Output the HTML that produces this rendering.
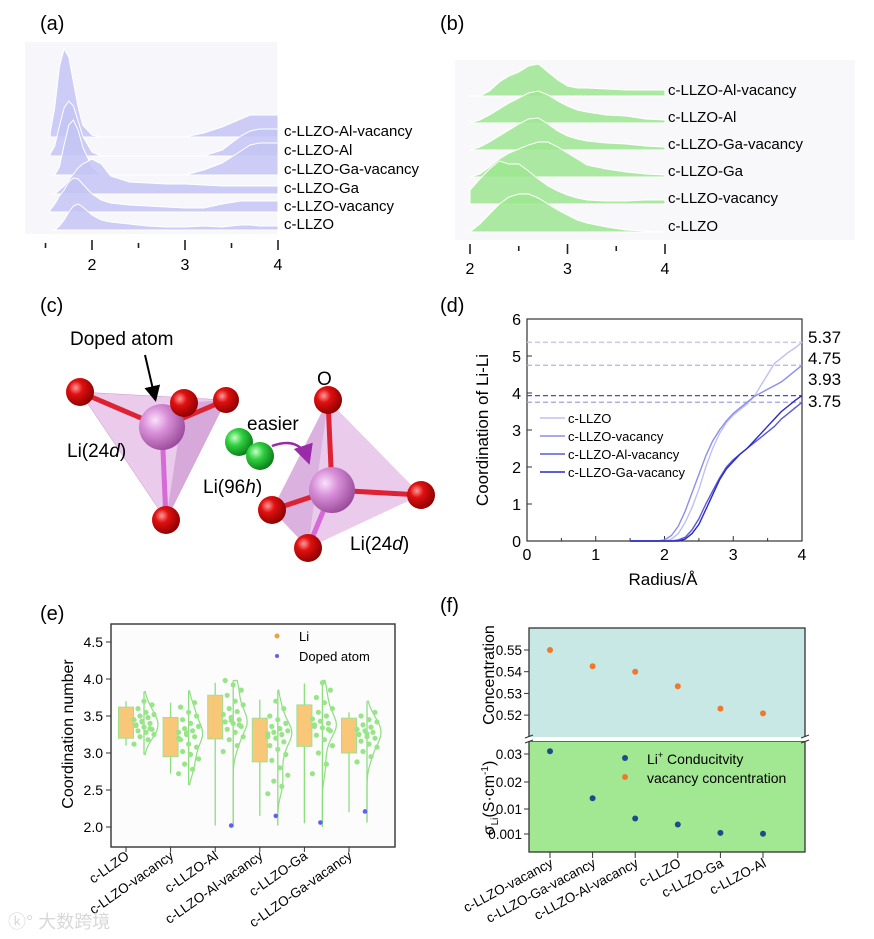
<!DOCTYPE html>
<html><head><meta charset="utf-8">
<style>
html,body{margin:0;padding:0;background:#fff;}
svg{display:block;font-family:"Liberation Sans",Arial,sans-serif;}
</style></head>
<body>
<svg id="fig" width="874" height="939" viewBox="0 0 874 939" xmlns="http://www.w3.org/2000/svg">
<defs>
<radialGradient id="gO" cx="35%" cy="35%" r="70%"><stop offset="0" stop-color="#ff9a9a"/><stop offset="0.35" stop-color="#e01010"/><stop offset="1" stop-color="#8a0000"/></radialGradient>
<radialGradient id="gLi" cx="35%" cy="35%" r="70%"><stop offset="0" stop-color="#fbe0fb"/><stop offset="0.4" stop-color="#d890d8"/><stop offset="1" stop-color="#9a4a9a"/></radialGradient>
<radialGradient id="gG" cx="35%" cy="35%" r="70%"><stop offset="0" stop-color="#c8ffc8"/><stop offset="0.4" stop-color="#30d040"/><stop offset="1" stop-color="#0a7a18"/></radialGradient>
<marker id="arrK" markerWidth="8" markerHeight="8" refX="6" refY="4" orient="auto"><path d="M0,0 L8,4 L0,8 Z" fill="#000"/></marker>
<marker id="arrP" markerWidth="8" markerHeight="8" refX="6" refY="4" orient="auto"><path d="M0,0 L8,4 L0,8 Z" fill="#9a2aa8"/></marker>
</defs>

<rect x="25" y="42" width="252" height="192" fill="#f7f7fb"/>
<rect x="455" y="60" width="400" height="180" fill="#f8f8fa"/>

<text x="40" y="30" font-size="20">(a)</text>
<text x="440" y="30" font-size="20">(b)</text>
<text x="40" y="312" font-size="20">(c)</text>
<text x="440" y="312" font-size="20">(d)</text>
<text x="40" y="620" font-size="20">(e)</text>
<text x="440" y="612" font-size="20">(f)</text>

<g id="pa"></g>
<g id="pb"></g>

<g id="pc">
  <polygon points="80,392 226,400 166,520" fill="#d9a0dc" fill-opacity="0.55" stroke="#c890cc" stroke-width="0.5"/>
  <polygon points="184,403 226,400 166,520" fill="#c080c8" fill-opacity="0.45"/>
  <line x1="80" y1="392" x2="162" y2="427" stroke="#d23" stroke-width="5"/>
  <line x1="226" y1="400" x2="162" y2="427" stroke="#d23" stroke-width="5"/>
  <line x1="184" y1="403" x2="162" y2="427" stroke="#d23" stroke-width="5"/>
  <line x1="166" y1="520" x2="162" y2="427" stroke="#d66ad6" stroke-width="5"/>
  <circle cx="162" cy="427" r="23" fill="url(#gLi)"/>
  <circle cx="80" cy="392" r="14" fill="url(#gO)"/>
  <circle cx="226" cy="400" r="13" fill="url(#gO)"/>
  <circle cx="184" cy="403" r="14" fill="url(#gO)"/>
  <circle cx="166" cy="520" r="14" fill="url(#gO)"/>
  <text x="70" y="345" font-size="19">Doped atom</text>
  <line x1="145" y1="355" x2="155" y2="398" stroke="#000" stroke-width="2" marker-end="url(#arrK)"/>
  <text x="67" y="457" font-size="19">Li(24<tspan font-style="italic">d</tspan>)</text>
  <polygon points="328,400 421,495 308,548 272,510" fill="#d9a0dc" fill-opacity="0.55"/>
  <polygon points="328,400 272,510 308,548" fill="#c080c8" fill-opacity="0.35"/>
  <line x1="328" y1="400" x2="332" y2="490" stroke="#d23" stroke-width="5"/>
  <line x1="272" y1="510" x2="332" y2="490" stroke="#d23" stroke-width="5"/>
  <line x1="421" y1="495" x2="332" y2="490" stroke="#d23" stroke-width="5"/>
  <line x1="308" y1="548" x2="332" y2="490" stroke="#d66ad6" stroke-width="5"/>
  <circle cx="332" cy="490" r="23" fill="url(#gLi)"/>
  <circle cx="328" cy="400" r="14" fill="url(#gO)"/>
  <circle cx="272" cy="510" r="14" fill="url(#gO)"/>
  <circle cx="421" cy="495" r="14" fill="url(#gO)"/>
  <circle cx="308" cy="548" r="14" fill="url(#gO)"/>
  <text x="317" y="385" font-size="19">O</text>
  <circle cx="239" cy="442" r="14" fill="url(#gG)"/>
  <circle cx="260" cy="456" r="14" fill="url(#gG)"/>
  <text x="247" y="430" font-size="19">easier</text>
  <path d="M272,446 Q300,436 308,460" fill="none" stroke="#9a2aa8" stroke-width="2.5" marker-end="url(#arrP)"/>
  <text x="203" y="493" font-size="19">Li(96<tspan font-style="italic">h</tspan>)</text>
  <text x="350" y="550" font-size="19">Li(24<tspan font-style="italic">d</tspan>)</text>
</g>

<g id="pd"></g>
<g id="pe"></g>
<g id="pf"></g>

<text x="8" y="928" font-size="18" fill="#d8d8d8" font-family="Liberation Sans, Noto Sans CJK SC, sans-serif">ⓚ° 大数跨境</text>
</svg>

<script>
const aGrid = [1.55,1.6,1.65,1.7,1.75,1.8,1.85,1.9,2.0,2.1,2.2,2.4,2.6,2.8,3.0,3.2,3.4,3.6,3.7,3.8,4.0];
const aNames = ["c-LLZO","c-LLZO-vacancy","c-LLZO-Ga","c-LLZO-Ga-vacancy","c-LLZO-Al","c-LLZO-Al-vacancy"];
const aLLZO   = [0,0,4,10,18,24,26,23,15,10,8,6,4,3,3,4,3,5,5,4,4];
const aVac    = [2,8,16,22,30,34,33,28,18,12,9,7,6,5,4,4,8,11,11,11,11];
const aGa     = [0,0,4,8,14,20,26,30,35,30,18,12,11,10,10,9,8,8,8,8,8];
const aGaVac  = [0,0,8,30,50,55,45,28,8,0,0,0,0,0,0,5,12,24,30,32,32];
const aAl     = [2,10,30,48,55,50,35,20,4,0,0,0,0,0,0,0,6,20,25,27,27];
const aAlVac  = [4,30,70,88,80,55,30,12,2,0,0,0,0,0,0,4,10,18,22,22,22];
const aTicks = [2,3,4];
const aMinor = [1.5,2.5,3.5];
const bGrid = [2.0,2.1,2.2,2.3,2.4,2.5,2.6,2.7,2.8,2.9,3.0,3.1,3.2,3.4,3.6,3.8,4.0];
const bLLZO  = [0,8,18,28,35,38,38,34,28,22,17,12,9,5,2,1,0];
const bVac   = [14,25,35,43,40,40,33,25,18,13,9,6,4,3,3,4,4];
const bGa    = [0,3,10,18,24,28,32,35,35,30,24,18,12,8,5,3,2];
const bGaVac = [0,3,8,14,20,26,31,32,26,19,14,11,9,7,6,4,3];
const bAl    = [0,3,8,14,20,25,30,32,28,22,17,13,11,8,7,4,3];
const bAlVac = [0,0,5,14,20,24,30,32,24,16,10,8,8,7,6,6,6];
const bTicks = [2,3,4];
const bMinor = [2.5,3.5];
const dR = [1.5,1.9,2.0,2.1,2.2,2.3,2.4,2.5,2.6,2.7,2.8,2.9,3.0,3.1,3.2,3.3,3.4,3.5,3.6,3.7,3.8,3.9,4.0];
const dLLZO  = [0,0,0,0.05,0.2,0.5,0.9,1.4,2.0,2.5,2.9,3.2,3.4,3.55,3.7,3.9,4.2,4.5,4.8,4.95,5.1,5.22,5.37];
const dVac   = [0,0,0.03,0.15,0.4,0.8,1.3,1.8,2.3,2.7,3.0,3.25,3.45,3.6,3.75,3.9,4.0,4.1,4.2,4.3,4.45,4.6,4.75];
const dAlVac = [0,0,0,0,0.03,0.1,0.3,0.6,1.0,1.35,1.7,2.0,2.2,2.35,2.5,2.65,2.8,2.95,3.1,3.3,3.45,3.6,3.75];
const dGaVac = [0,0,0,0,0,0.05,0.2,0.45,0.85,1.25,1.65,1.95,2.15,2.35,2.5,2.7,2.9,3.1,3.3,3.5,3.65,3.8,3.93];
const dFinal = [5.37,4.75,3.93,3.75];
const dYTicks = [0,1,2,3,4,5,6];
const dXTicks = [0,1,2,3,4];
const eCats = ["c-LLZO","c-LLZO-vacancy","c-LLZO-Al","c-LLZO-Al-vacancy","c-LLZO-Ga","c-LLZO-Ga-vacancy"];
const eQ1 = [3.2,2.95,3.19,2.88,3.09,3.0];
const eQ3 = [3.62,3.48,3.78,3.47,3.65,3.47];
const eWLow = [3.1,2.72,2.02,2.15,2.05,2.2];
const eWHigh = [3.7,3.68,3.95,3.72,3.94,3.55];
const eVLow = [2.98,2.57,2.0,2.02,2.0,2.06];
const eVHigh = [3.83,3.84,3.98,3.85,3.98,3.7];
const eDoped = [null,null,2.02,2.15,2.06,2.21];
const ePts0 = [3.12,3.18,3.22,3.25,3.28,3.3,3.32,3.35,3.37,3.4,3.42,3.45,3.48,3.5,3.52,3.55,3.6,3.65,3.7,3.38,3.33,3.43];
const ePts1 = [2.72,2.78,2.85,2.92,2.98,3.02,3.08,3.12,3.18,3.22,3.25,3.28,3.3,3.33,3.36,3.4,3.45,3.5,3.55,3.62,3.68,3.27,3.2];
const ePts2 = [3.02,3.1,3.18,3.22,3.28,3.32,3.36,3.4,3.42,3.45,3.48,3.52,3.56,3.6,3.65,3.7,3.78,3.85,3.92,3.98,3.38,3.44];
const ePts3 = [2.45,2.55,2.62,2.7,2.8,2.9,2.98,3.05,3.1,3.15,3.2,3.22,3.25,3.28,3.3,3.33,3.36,3.4,3.45,3.5,3.6,3.7,3.26];
const ePts4 = [2.72,2.85,3.0,3.1,3.18,3.24,3.3,3.34,3.38,3.4,3.43,3.46,3.5,3.55,3.6,3.68,3.75,3.85,3.95,3.36,3.32];
const ePts5 = [2.88,2.95,3.02,3.08,3.12,3.16,3.2,3.22,3.25,3.28,3.3,3.32,3.35,3.38,3.42,3.45,3.5,3.55,3.26];
const eYTicks = [2.0,2.5,3.0,3.5,4.0,4.5];
const fCats = ["c-LLZO-vacancy","c-LLZO-Ga-vacancy","c-LLZO-Al-vacancy","c-LLZO","c-LLZO-Ga","c-LLZO-Al"];
const fConc = [0.550,0.5425,0.540,0.5333,0.523,0.5208];
const fCond = [0.031,0.014,0.0066,0.0044,0.0014,0.0011];
const fUpTicks = [0.55,0.54,0.53,0.52];
const fLowTicks = [0.03,0.02,0.01,0.001];

const NS = "http://www.w3.org/2000/svg";
function mk(tag, attrs, parent){ const el=document.createElementNS(NS,tag); for(const k in attrs) el.setAttribute(k,attrs[k]); parent.appendChild(el); return el; }
function txt(s, attrs, parent){ const t=mk("text",attrs,parent); t.textContent=s; return t; }

const pa=document.getElementById("pa");
const xA = v => 92+(v-2)*93;
const aSeries=[aLLZO,aVac,aGa,aGaVac,aAl,aAlVac];
const aBase=[230,212,194,175,156,137];
for(let i=5;i>=0;i--){
  let d="M"+xA(aGrid[0])+","+aBase[i];
  aGrid.forEach((r,j)=>{ d+=" L"+xA(r).toFixed(1)+","+(aBase[i]-aSeries[i][j]).toFixed(1); });
  d+=" L"+xA(4)+","+aBase[i]+" Z";
  const p=mk("path",{d:d,fill:"#c4c4f4","fill-opacity":"0.85",stroke:"#ffffff","stroke-width":"1"},pa);
  
  
  const t=txt(aNames[i],{x:284,y:aBase[i]-1,"font-size":"15"},pa);
  
  
}
aTicks.forEach(v=>{
  const l=mk("line",{x1:xA(v),x2:xA(v),y1:240,y2:250,stroke:"#222","stroke-width":"1.6"},pa);
  
  
  const t=txt(String(v),{x:xA(v),y:270,"font-size":"16","text-anchor":"middle"},pa);
  
  
});
aMinor.forEach(v=>{
  const l=mk("line",{x1:xA(v),x2:xA(v),y1:243,y2:248,stroke:"#222","stroke-width":"1.6"},pa);
  
  
});

const pb=document.getElementById("pb");
const xB = v => 470+(v-2)*97.5;
const bSeries=[bLLZO,bVac,bGa,bGaVac,bAl,bAlVac];
const bBase=[232,204,177,150,123,96];
for(let i=5;i>=0;i--){
  let d="M"+xB(bGrid[0])+","+bBase[i];
  bGrid.forEach((r,j)=>{ d+=" L"+xB(r).toFixed(1)+","+(bBase[i]-bSeries[i][j]).toFixed(1); });
  d+=" L"+xB(4)+","+bBase[i]+" Z";
  const p=mk("path",{d:d,fill:"#9ee692","fill-opacity":"0.85",stroke:"#ffffff","stroke-width":"1"},pb);
  
  
  const t=txt(aNames[i],{x:668,y:bBase[i]-1,"font-size":"15"},pb);
  
  
}
bTicks.forEach(v=>{
  const l=mk("line",{x1:xB(v),x2:xB(v),y1:244,y2:254,stroke:"#222","stroke-width":"1.6"},pb);
  
  
  const t=txt(String(v),{x:xB(v),y:274,"font-size":"16","text-anchor":"middle"},pb);
  
  
});
bMinor.forEach(v=>{
  const l=mk("line",{x1:xB(v),x2:xB(v),y1:246,y2:251,stroke:"#222","stroke-width":"1.6"},pb);
  
  
});

const pd=document.getElementById("pd");
const xD = v => 527+v*68.75;
const yD = v => 541-v*37;
const fr=mk("rect",{x:527,y:319,width:275,height:222,fill:"none",stroke:"#333","stroke-width":"1.2"},pd);


dYTicks.forEach(v=>{
  const l=mk("line",{x1:527,x2:532,y1:yD(v),y2:yD(v),stroke:"#333"},pd);
  
  
  const t=txt(String(v),{x:521,y:yD(v)+6,"font-size":"16","text-anchor":"end"},pd);
  
  
});
dXTicks.forEach(v=>{
  const l=mk("line",{x1:xD(v),x2:xD(v),y1:541,y2:536,stroke:"#333"},pd);
  
  
  const t=txt(String(v),{x:xD(v),y:560,"font-size":"16","text-anchor":"middle"},pd);
  
  
  if(v<4){ const m=mk("line",{x1:xD(v+0.5),x2:xD(v+0.5),y1:541,y2:538,stroke:"#333"},pd);
  
   }
});
const dashCols=["#c6c6f2","#b0b0ee","#4a4ad0","#a0a0e8"];
dFinal.forEach((v,i)=>{
  const l=mk("line",{x1:527,x2:802,y1:yD(v),y2:yD(v),stroke:dashCols[i],"stroke-width":"1.3","stroke-dasharray":"5,3"},pd);
  
  
  const t=txt(v.toFixed(2),{x:808,y:[343,364,385,407][i],"font-size":"17"},pd);
  
  
});
const dSeries=[dLLZO,dVac,dAlVac,dGaVac];
const dNames=["c-LLZO","c-LLZO-vacancy","c-LLZO-Al-vacancy","c-LLZO-Ga-vacancy"];
const dCols=["#c0c0f0","#8e8ee4","#5a5ad8","#2a2ac4"];
dSeries.forEach((s,i)=>{
  const pts=dR.map((r,j)=>xD(r).toFixed(1)+","+yD(s[j]).toFixed(1)).join(" ");
  const p=mk("polyline",{points:pts,fill:"none",stroke:dCols[i],"stroke-width":"1.4"},pd);
  
  
  const ly=418+i*18;
  const l=mk("line",{x1:540,x2:565,y1:ly,y2:ly,stroke:dCols[i],"stroke-width":"1.4"},pd);
  
  
  const t=txt(dNames[i],{x:568,y:ly+5,"font-size":"13"},pd);
  
  
});
const dyt=txt("Coordination of Li-Li",{x:0,y:0,"font-size":"17","text-anchor":"middle",transform:"translate(488,430) rotate(-90)"},pd);


const dxt=txt("Radius/Å",{x:663,y:585,"font-size":"17","text-anchor":"middle"},pd);



const pe=document.getElementById("pe");
const yE = v => 827-(v-2)*74;
const xE = i => 126+i*44.6;
const ebg=mk("rect",{x:111,y:624,width:284,height:223,fill:"#fcfcfc",stroke:"#333","stroke-width":"1.4"},pe);


eYTicks.forEach(v=>{
  const l=mk("line",{x1:106,x2:111,y1:yE(v),y2:yE(v),stroke:"#333"},pe);
  
  
  const t=txt(v.toFixed(1),{x:103,y:yE(v)+5,"font-size":"14","text-anchor":"end"},pe);
  
  
});
const ePts=[ePts0,ePts1,ePts2,ePts3,ePts4,ePts5];
eCats.forEach((c,i)=>{
  const cx=xE(i), vx=cx+18;
  const w=mk("line",{x1:cx,x2:cx,y1:yE(eWLow[i]),y2:yE(eWHigh[i]),stroke:"#8ede80","stroke-width":"1.3"},pe);
  
  
  const b=mk("rect",{x:cx-7.5,y:yE(eQ3[i]),width:15,height:yE(eQ1[i])-yE(eQ3[i]),fill:"#f8c878",stroke:"#9ee090","stroke-width":"1"},pe);
  
  
  const vl=mk("line",{x1:vx,x2:vx,y1:yE(eVLow[i]),y2:yE(eVHigh[i]),stroke:"#8ede80","stroke-width":"1.3"},pe);
  
  
  const pts=ePts[i]; const bw=0.12; let dens=[]; let mx=0;
  for(let k=0;k<=40;k++){ const y=eVLow[i]+(eVHigh[i]-eVLow[i])*k/40; let s=0; pts.forEach(p=>{s+=Math.exp(-0.5*((y-p)/bw)**2);}); dens.push([y,s]); if(s>mx)mx=s; }
  const path=dens.map(([y,s])=>(vx+s/mx*14).toFixed(1)+","+yE(y).toFixed(1)).join(" ");
  const vp=mk("polyline",{points:vx+","+yE(eVLow[i])+" "+path+" "+vx+","+yE(eVHigh[i]),fill:"none",stroke:"#8ede80","stroke-width":"1.2"},pe);
  
  
  pts.forEach((p,k)=>{
    const jx=cx+8+((k*7)%11)*2;
    const d=mk("circle",{cx:jx.toFixed(1),cy:yE(p).toFixed(1),r:2.6,fill:"#98e488"},pe);
    
    
  });
  if(eDoped[i]!==null){
    const d=mk("circle",{cx:vx-2,cy:yE(eDoped[i]),r:2.3,fill:"#6060f0"},pe);
    
    
  }
  const t=mk("line",{x1:cx,x2:cx,y1:847,y2:852,stroke:"#333"},pe);
  
  
  const lb=txt(c,{x:0,y:0,"font-size":"13.5","text-anchor":"end",transform:"translate("+(cx+4)+",858) rotate(-35)"},pe);
  
  
});
const el1=mk("circle",{cx:277,cy:636,r:2.5,fill:"#f0a040"},pe);


const el1t=txt("Li",{x:299,y:641,"font-size":"13"},pe);


const el2=mk("circle",{cx:277,cy:656,r:2,fill:"#6060f0"},pe);


const el2t=txt("Doped atom",{x:299,y:661,"font-size":"13"},pe);


const eyt=txt("Coordination number",{x:0,y:0,"font-size":"16","text-anchor":"middle",transform:"translate(73,734) rotate(-90)"},pe);



const pf=document.getElementById("pf");
const xF = i => 550+i*42.6;
const yU = v => 650-(v-0.55)*2170;
const lowT=[0.001,0.01,0.02,0.03], lowY=[834,809,782,754];
function yL(v){ if(v<=lowT[0]) return lowY[0]+(lowT[0]-v)*2000; for(let k=0;k<3;k++){ if(v<=lowT[k+1]) return lowY[k]+(v-lowT[k])/(lowT[k+1]-lowT[k])*(lowY[k+1]-lowY[k]); } return lowY[3]-(v-0.03)*2800; }
const up=mk("rect",{x:529,y:628,width:276,height:110,fill:"#c8e8e6",stroke:"#333","stroke-width":"1.3"},pf);


const lo=mk("rect",{x:529,y:741,width:276,height:111,fill:"#a2e892",stroke:"#333","stroke-width":"1.3"},pf);


const gap=mk("rect",{x:526,y:737,width:283,height:4,fill:"#fff"},pf);


[529,805].forEach(x=>{
  const b1=mk("path",{d:"M"+(x-4)+",738 l8,-3 M"+(x-4)+",743 l8,-3",stroke:"#333","stroke-width":"1.2",fill:"none"},pf);
  
  
});
fUpTicks.forEach(v=>{
  const l=mk("line",{x1:524,x2:529,y1:yU(v),y2:yU(v),stroke:"#333"},pf);
  
  
  const t=txt(v.toFixed(2),{x:522,y:yU(v)+5,"font-size":"13.5","text-anchor":"end"},pf);
  
  
});
fLowTicks.forEach(v=>{
  const l=mk("line",{x1:524,x2:529,y1:yL(v),y2:yL(v),stroke:"#333"},pf);
  
  
  const t=txt(String(v),{x:522,y:yL(v)+5,"font-size":"13.5","text-anchor":"end"},pf);
  
  
});
fCats.forEach((c,i)=>{
  const o=mk("circle",{cx:xF(i),cy:yU(fConc[i]),r:3,fill:"#f07828"},pf);
  
  
  const b=mk("circle",{cx:xF(i),cy:yL(fCond[i]),r:3,fill:"#1a4e88"},pf);
  
  
  const t=mk("line",{x1:xF(i),x2:xF(i),y1:852,y2:858,stroke:"#333"},pf);
  
  
  const lb=txt(c,{x:0,y:0,"font-size":"13.5","text-anchor":"end",transform:"translate("+(xF(i)+4)+",866) rotate(-28)"},pf);
  
  
});
const fl1=mk("circle",{cx:625,cy:758,r:3,fill:"#1a4e88"},pf);


const fl1t=txt("Li",{x:647,y:764,"font-size":"14"},pf);


const sup=mk("tspan",{"font-size":"9",dy:"-6"},fl1t); sup.textContent="+";
const rest=mk("tspan",{dy:"6"},fl1t); rest.textContent=" Conducitvity";
const fl2=mk("circle",{cx:625,cy:777,r:3,fill:"#f07828"},pf);


const fl2t=txt("vacancy concentration",{x:647,y:783,"font-size":"14"},pf);


const fyt1=txt("Concentration",{x:0,y:0,"font-size":"16","text-anchor":"middle",transform:"translate(494,675) rotate(-90)"},pf);


const fyt2=txt("σ",{x:0,y:0,"font-size":"16","text-anchor":"middle",transform:"translate(494,798) rotate(-90)"},pf);


const s1=mk("tspan",{"font-size":"10",dy:"4"},fyt2); s1.textContent="Li";
const s2=mk("tspan",{dy:"-4"},fyt2); s2.textContent="(S·cm";
const s3=mk("tspan",{"font-size":"10",dy:"-6"},fyt2); s3.textContent="-1";
const s4=mk("tspan",{dy:"6"},fyt2); s4.textContent=")";
</script>
</body></html>
